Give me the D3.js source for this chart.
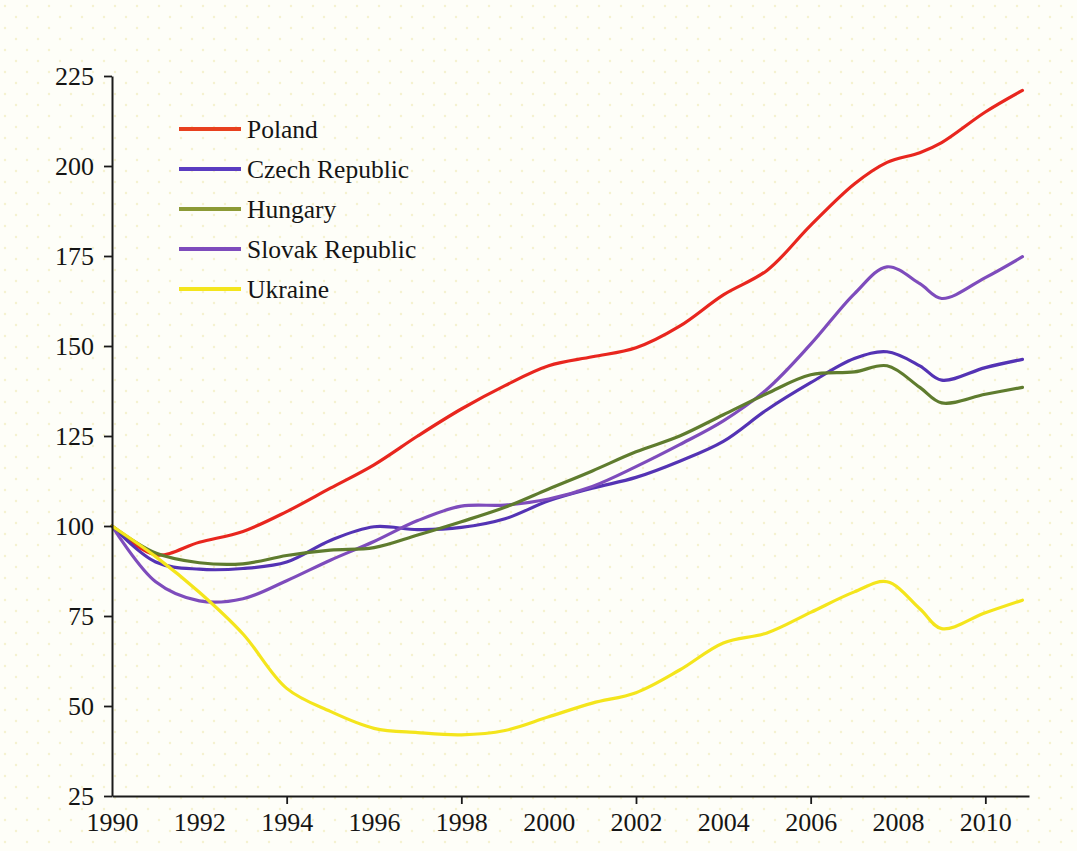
<!DOCTYPE html>
<html>
<head>
<meta charset="utf-8">
<script src="https://cdn.jsdelivr.net/npm/d3@7/dist/d3.min.js"></script>
<style>
  html, body { margin: 0; padding: 0; background: #fefef8; }
  svg { display: block; }
</style>
</head>
<body>
<svg id="chart" width="1077" height="851"></svg>
<script>
// ---- Data (index, 1990 = 100) ----
const years = [1990, 1991, 1992, 1993, 1994, 1995, 1996, 1997, 1998, 1999, 2000,
               2001, 2002, 2003, 2004, 2005, 2006, 2007, 2007.75, 2008.5, 2009, 2010, 2010.85];

const poland   = [100, 92, 95.5, 98.5, 104, 110.5, 117, 125, 132.5, 139, 144.5,
                  147, 149.5, 155.5, 164.2, 171, 183.5, 195, 201, 203.7, 206.5, 215, 221];
const czech    = [100, 90, 88, 88.2, 90, 96, 99.8, 99, 99.6, 102, 107,
                  110.5, 113.5, 118, 123.5, 132.3, 139.8, 146.5, 148.4, 144.5, 140.5, 144, 146.3];
const hungary  = [100, 92.5, 89.8, 89.5, 91.8, 93.3, 94, 97.5, 101.2, 105.2, 110.3,
                  115.3, 120.6, 125, 130.9, 136.8, 142, 142.8, 144.5, 138.5, 134.2, 136.6, 138.5];
const slovak   = [100, 84.5, 79.2, 79.8, 84.8, 90.5, 95.7, 101.5, 105.5, 105.8, 107.5,
                  111, 116.5, 122.6, 129.2, 138, 150.5, 164.5, 172, 167.3, 163.2, 169, 174.8];
const ukraine  = [100, 91.5, 81.6, 70, 54.9, 48.5, 43.8, 42.6, 42, 43.2, 47,
                  50.8, 53.7, 60, 67.5, 70.3, 76, 81.7, 84.5, 77, 71.5, 75.9, 79.4];

const seriesNames  = ["Poland", "Czech Republic", "Hungary", "Slovak Republic", "Ukraine"];
const seriesValues = [poland, czech, hungary, slovak, ukraine];
const seriesColors = ["#e8261e", "#5433b4", "#5f7c2e", "#7e4cbc", "#f4e51c"];
const legendColors = ["#e8401e", "#5a3cc0", "#8c9a36", "#7e4cbc", "#f4e51c"];

const yTicks   = [25, 50, 75, 100, 125, 150, 175, 200, 225];
const xLabels  = [1990, 1992, 1994, 1996, 1998, 2000, 2002, 2004, 2006, 2008, 2010];
const xTickMarks = [1994, 1998, 2002, 2006, 2010];

// ---- Layout ----
const svg = d3.select("#chart");
const W = 1077, H = 851;
const font = "'Liberation Serif', 'DejaVu Serif', serif";

// background with faint dotted paper texture
const defs = svg.append("defs");
const pat = defs.append("pattern").attr("id", "dots").attr("width", 22).attr("height", 22)
  .attr("patternUnits", "userSpaceOnUse");
pat.append("rect").attr("width", 22).attr("height", 22).attr("fill", "#fefef8");
pat.append("circle").attr("cx", 5).attr("cy", 6).attr("r", 1.2).attr("fill", "#f5f2cf");
pat.append("circle").attr("cx", 16).attr("cy", 17).attr("r", 1.2).attr("fill", "#f5f2cf");
svg.append("rect").attr("width", W).attr("height", H).attr("fill", "url(#dots)");

const x = d3.scaleLinear().domain([1990, 2011]).range([112, 1029]);
const y = d3.scaleLinear().domain([25, 225]).range([796, 76]);

// ---- Lines ----
const line = d3.line()
  .x((d, i) => x(years[i]))
  .y(d => y(d))
  .curve(d3.curveCatmullRom.alpha(0.5));

const drawOrder = [0, 1, 3, 2, 4];
drawOrder.forEach(k => {
  svg.append("path")
    .datum(seriesValues[k])
    .attr("fill", "none")
    .attr("stroke", seriesColors[k])
    .attr("stroke-width", 3.2)
    .attr("stroke-linejoin", "round")
    .attr("stroke-linecap", "round")
    .attr("d", line);
});

// ---- Axes ----
const yAxis = d3.axisLeft(y).tickValues(yTicks).tickSize(8).tickSizeOuter(0).tickPadding(10);
const gy = svg.append("g").attr("transform", `translate(${x(1990)},0)`).call(yAxis);

const xAxis = d3.axisBottom(x).tickValues(xLabels).tickFormat(d3.format("d"))
  .tickSize(8).tickSizeOuter(0).tickPadding(9);
const gx = svg.append("g").attr("transform", `translate(0,${y(25)})`).call(xAxis);
gx.selectAll(".tick line").attr("opacity", d => xTickMarks.includes(d) ? 1 : 0);

[gx, gy].forEach(g => {
  g.attr("font-size", null).attr("font-family", null);
  g.select(".domain").attr("stroke", "#1a1a1a").attr("stroke-width", 2);
  g.selectAll(".tick line").attr("stroke", "#1a1a1a").attr("stroke-width", 1.8);
  g.selectAll(".tick text").attr("fill", "#151515")
    .style("font-family", font).style("font-size", "26px");
});

// ---- Legend ----
const legend = svg.append("g");
seriesNames.forEach((name, i) => {
  const cy = 129 + i * 40;
  legend.append("line")
    .attr("x1", 179).attr("x2", 241).attr("y1", cy).attr("y2", cy)
    .attr("stroke", legendColors[i]).attr("stroke-width", 4);
  legend.append("text")
    .attr("x", 247).attr("y", cy + 9)
    .attr("fill", "#151515")
    .style("font-family", font).style("font-size", "25.5px")
    .text(name);
});
</script>
</body>
</html>
